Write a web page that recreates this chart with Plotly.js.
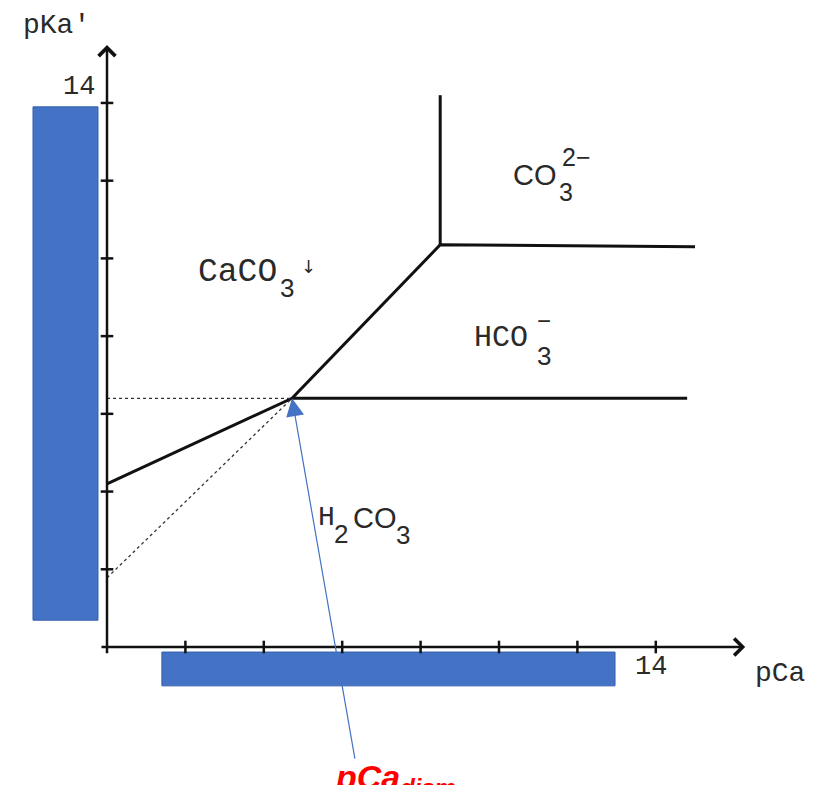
<!DOCTYPE html>
<html>
<head>
<meta charset="utf-8">
<script src="https://cdn.plot.ly/plotly-3.0.1.min.js"></script>
<style>html,body{margin:0;padding:0;background:#fff;}#chart{width:813px;height:785px;}</style>
</head>
<body>
<div id="chart"></div>
<script>
// ---- data (pCa, pKa') ----
const boundaryX = [0, 4.72, 8.5, 15.0];        // CaCO3 precipitation boundary
const boundaryY = [4.2, 6.4, 10.35, 10.3];
const hco3X = [4.72, 14.8];                     // H2CO3 / HCO3- boundary
const hco3Y = [6.4, 6.4];
const co3X = [8.5, 8.5];                        // CaCO3 / CO3 2- boundary
const co3Y = [10.35, 14.2];
const dotHX = [0, 4.72];                        // dotted horizontal projection
const dotHY = [6.4, 6.4];
const dotSX = [0, 4.72];                        // dotted slope extension
const dotSY = [1.78, 6.4];
const tickVals = [2, 4, 6, 8, 10, 12, 14];
const axisMax = 14;
const pCaDism = [4.72, 6.4];                    // point pointed at by pCa_dism

const xRange = [-107/39.2, 706/39.2];
const yRange = [-138/38.86, 647/38.86];

const black = '#111';
const txt = '#2a2a2a';
const mono = 'Liberation Mono, Courier New, monospace';
const sans = 'Liberation Sans, Arial, sans-serif';

const traces = [
  {x: boundaryX, y: boundaryY, mode: 'lines', line: {color: black, width: 3}},
  {x: hco3X, y: hco3Y, mode: 'lines', line: {color: black, width: 3}},
  {x: co3X, y: co3Y, mode: 'lines', line: {color: black, width: 3}},
  {x: dotHX, y: dotHY, mode: 'lines', line: {color: '#333', width: 1.3, dash: 'dot'}},
  {x: dotSX, y: dotSY, mode: 'lines', line: {color: '#333', width: 1.3, dash: 'dot'}},
  {x: tickVals.map(() => 0), y: tickVals, mode: 'markers',
   marker: {symbol: 'line-ew', size: 9, line: {color: black, width: 2.5}}},
  {x: tickVals, y: tickVals.map(() => 0), mode: 'markers',
   marker: {symbol: 'line-ns', size: 9, line: {color: black, width: 2.5}}}
];

function lab(text, x, y, size, font, opts) {
  return Object.assign({x: x, y: y, xref: 'x', yref: 'y', text: text, showarrow: false,
    font: {family: font, size: size, color: txt}}, opts || {});
}

const annotations = [
  // axes with arrows
  {x: 0, y: 15.49, ax: 0, ay: -0.2, xref: 'x', yref: 'y', axref: 'x', ayref: 'y', text: '',
   showarrow: true, arrowhead: 4, arrowsize: 1.3, arrowwidth: 2.5, arrowcolor: black},
  {x: 16.28, y: 0, ax: -0.18, ay: 0, xref: 'x', yref: 'y', axref: 'x', ayref: 'y', text: '',
   showarrow: true, arrowhead: 4, arrowsize: 1.3, arrowwidth: 2.5, arrowcolor: black},
  // axis labels
  lab("pKa'", -1.3, 16.0, 28, mono),
  lab(String(axisMax), -0.255, 14.4, 27, mono, {xanchor: 'right'}),
  lab(String(axisMax), 13.88, -0.52, 27, mono),
  lab('pCa', 17.17, -0.69, 28, mono),
  // region labels
  lab('CaCO', 3.32, 9.65, 33, mono),
  lab('3', 4.6, 9.24, 26, sans),
  lab('↓', 5.15, 9.8, 18, 'DejaVu Sans'),
  lab('HCO', 10.05, 7.95, 30, mono),
  lab('3', 11.16, 7.5, 26, sans),
  lab('−', 11.16, 8.4, 24, sans),
  lab('CO', 10.92, 12.15, 29, sans),
  lab('2−', 11.97, 12.6, 25, sans),
  lab('3', 11.7, 11.72, 25, sans),
  lab('H', 5.59, 3.32, 28, mono),
  lab('2', 5.97, 2.92, 26, sans),
  lab('CO', 6.84, 3.32, 29, sans),
  lab('3', 7.55, 2.87, 26, sans),
  // pCa_dism pointer
  {x: pCaDism[0], y: pCaDism[1], ax: 6.33, ay: -2.91, xref: 'x', yref: 'y', axref: 'x', ayref: 'y',
   text: '', showarrow: true, arrowhead: 2, arrowsize: 3, arrowwidth: 1.2, arrowcolor: '#4472C4'},
  {x: 7.35, y: -2.8, xref: 'x', yref: 'y', yanchor: 'top', showarrow: false,
   text: '<b><i>pCa<sub>dism</sub></i></b>', font: {family: 'Liberation Sans, Arial', size: 34, color: '#FF0000'}}
];

const shapes = [
  {type: 'rect', xref: 'x', yref: 'y', x0: -1.888, x1: -0.23, y0: 0.69, y1: 13.9, layer: 'below',
   fillcolor: '#4472C4', line: {color: '#3560AE', width: 1}},
  {type: 'rect', xref: 'x', yref: 'y', x0: 1.4, x1: 12.96, y0: -1.0, y1: -0.13, layer: 'below',
   fillcolor: '#4472C4', line: {color: '#3560AE', width: 1}}
];

const layout = {
  width: 813, height: 785,
  margin: {l: 0, r: 0, t: 0, b: 0},
  paper_bgcolor: '#fff', plot_bgcolor: '#fff',
  showlegend: false,
  xaxis: {range: xRange, visible: false, fixedrange: true},
  yaxis: {range: yRange, visible: false, fixedrange: true},
  annotations: annotations,
  shapes: shapes
};

Plotly.newPlot('chart', traces, layout, {displayModeBar: false, staticPlot: true});
</script>
</body>
</html>
